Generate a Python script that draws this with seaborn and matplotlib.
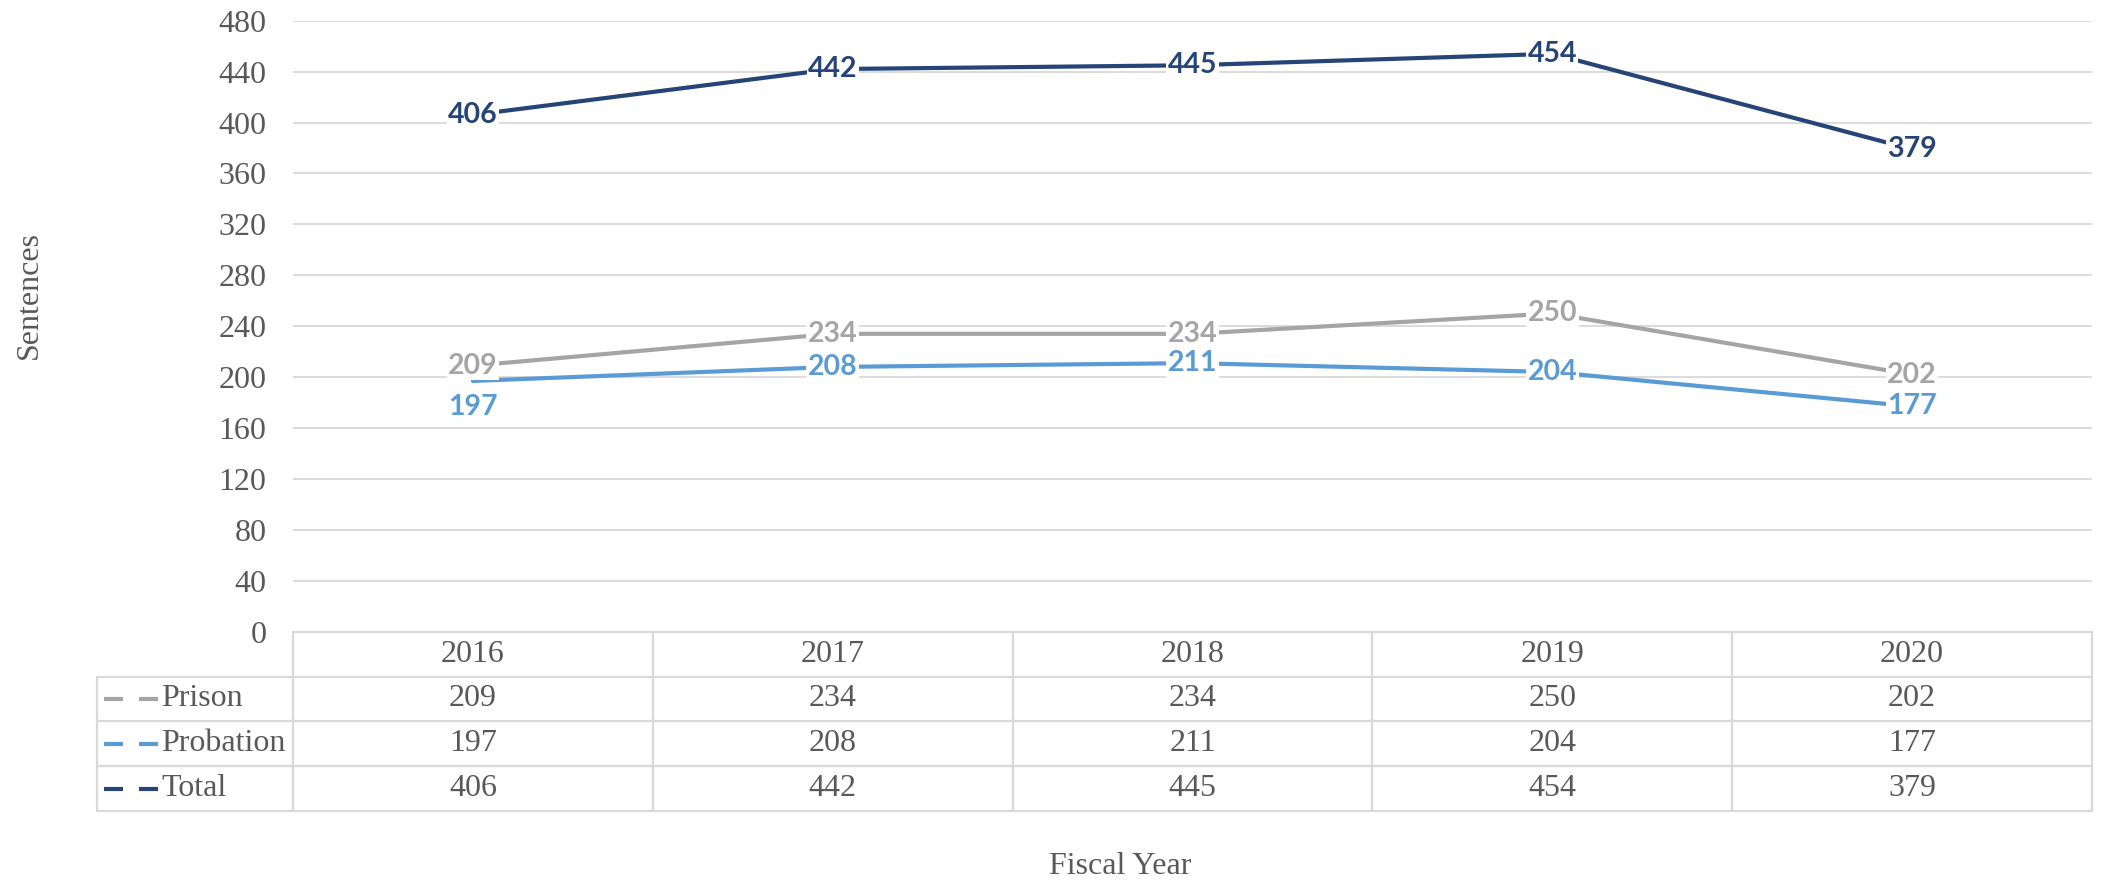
import matplotlib
matplotlib.use("Agg")
import matplotlib.pyplot as plt
import matplotlib.transforms as mtransforms
import seaborn as sns
import pandas as pd

# ---- data ----
years = ["2016", "2017", "2018", "2019", "2020"]
prison = [209, 234, 234, 250, 202]
probation = [197, 208, 211, 204, 177]
total = [406, 442, 445, 454, 379]
series_names = ["Prison", "Probation", "Total"]
y_ticks = [0, 40, 80, 120, 160, 200, 240, 280, 320, 360, 400, 440, 480]

colors = {"Prison": "#A5A5A5", "Probation": "#5B9BD5", "Total": "#264478"}
series_vals = {"Prison": prison, "Probation": probation, "Total": total}

rows = []
for s in series_names:
    for i, v in enumerate(series_vals[s]):
        rows.append({"pos": i, "year": years[i], "series": s, "value": v})
df = pd.DataFrame(rows)

sns.set_theme(style="white")
TXT = "#595959"
GRID = "#D9D9D9"
SERIF = ["Liberation Serif", "DejaVu Serif"]
FS = 23
W, H = 2101, 883
fig = plt.figure(figsize=(W / 100, H / 100), dpi=100)

# main plot area (pixel geometry)
L, R, T, B = 293, 2092, 20.7, 631.7
ax = fig.add_axes([L / W, (H - B) / H, (R - L) / W, (B - T) / H])
sns.lineplot(data=df, x="pos", y="value", hue="series", hue_order=series_names,
             palette=colors, linewidth=3.0, legend=False, ax=ax, zorder=3)
ax.set_xlim(-0.5, len(years) - 0.5)
ax.set_ylim(0, 480)
ax.set_yticks(y_ticks)
ax.set_yticklabels([str(t) for t in y_ticks], family=SERIF, fontsize=FS, color=TXT)
ax.set_xticks([])
ax.set_xlabel("")
ax.set_ylabel("")
ax.tick_params(axis="y", length=0, pad=19)
for sp in ax.spines.values():
    sp.set_visible(False)
ax.yaxis.grid(True, color=GRID, linewidth=1.3)
ax.set_axisbelow(True)

# data labels
for s in series_names:
    for i, v in enumerate(series_vals[s]):
        dy = 0
        if s == "Probation" and i == 0:
            dy = -19
        ax.annotate(str(v), (i, v), xytext=(0, dy), textcoords="offset points",
                    ha="center", va="center", fontsize=20.5, fontweight="bold",
                    family=["Lato", "DejaVu Sans"], color=colors[s], zorder=5,
                    bbox=dict(boxstyle="square,pad=0.05", fc="white", ec="none"))

# ---- data table below the plot ----
TL, TT, TB = 97, 631.7, 811
tax = fig.add_axes([TL / W, (H - TB) / H, (R - TL) / W, (TB - TT) / H])
tax.set_xlim(TL, R)
tax.set_ylim(TB, TT)
tax.axis("off")
nrows = 4
rh = (TB - TT) / nrows
row_tops = [TT + k * rh for k in range(nrows + 1)]
lw_t = 1.6
tax.plot([L, R], [row_tops[0]] * 2, color=GRID, lw=lw_t, clip_on=False)
for k in range(1, nrows + 1):
    tax.plot([TL, R], [row_tops[k]] * 2, color=GRID, lw=lw_t, clip_on=False)
col_w = (R - L) / len(years)
for c in range(len(years) + 1):
    x = L + c * col_w
    tax.plot([x, x], [row_tops[0], row_tops[-1]], color=GRID, lw=lw_t, clip_on=False)
tax.plot([TL, TL], [row_tops[1], row_tops[-1]], color=GRID, lw=lw_t, clip_on=False)

blend = mtransforms.blended_transform_factory(ax.transData, tax.transData)
for i, yr in enumerate(years):
    tax.text(i, (row_tops[0] + row_tops[1]) / 2, yr, transform=blend, ha="center",
             va="center", family=SERIF, fontsize=FS, color=TXT)
for r, s in enumerate(series_names):
    yc = (row_tops[r + 1] + row_tops[r + 2]) / 2
    for i, v in enumerate(series_vals[s]):
        tax.text(i, yc, str(v), transform=blend, ha="center", va="center",
                 family=SERIF, fontsize=FS, color=TXT)
    tax.plot([104, 123], [yc, yc], color=colors[s], lw=3, solid_capstyle="butt")
    tax.plot([139, 158], [yc, yc], color=colors[s], lw=3, solid_capstyle="butt")
    tax.text(161, yc, s, ha="left", va="center", family=SERIF, fontsize=FS, color=TXT)

# axis titles
fig.text(29 / W, 1 - 295 / H, "Sentences", rotation=90, ha="center", va="center",
         family=SERIF, fontsize=FS, color=TXT)
fig.text(1120 / W, 1 - 867 / H, "Fiscal Year", ha="center", va="center",
         family=SERIF, fontsize=FS, color=TXT)

fig.savefig("out.png", dpi=100, facecolor="white")
